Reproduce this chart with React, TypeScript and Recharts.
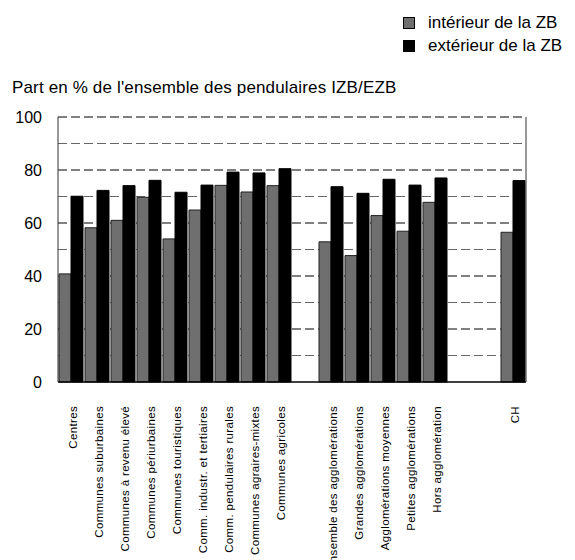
import React from "react";
import {
  BarChart,
  Bar,
  XAxis,
  YAxis,
  CartesianGrid,
} from "recharts";

const categories = [
  "Centres",
  "Communes suburbaines",
  "Communes à revenu élevé",
  "Communes périurbaines",
  "Communes touristiques",
  "Comm. industr. et tertiaires",
  "Comm. pendulaires rurales",
  "Communes agraires-mixtes",
  "Communes agricoles",
  "",
  "Ensemble des agglomérations",
  "Grandes agglomérations",
  "Agglomérations moyennes",
  "Petites agglomérations",
  "Hors agglomération",
  "",
  "",
  "CH",
];

const interieur = [
  40.8, 58.2, 61.0, 69.7, 54.0, 64.9, 74.2, 71.7, 74.1, null,
  52.9, 47.7, 62.8, 56.9, 67.8, null, null, 56.5,
];

const exterieur = [
  70.1, 72.3, 74.1, 76.1, 71.6, 74.3, 79.2, 78.9, 80.5, null,
  73.7, 71.2, 76.5, 74.3, 77.0, null, null, 76.0,
];

const yTicks = [0, 20, 40, 60, 80, 100];
const gridValues = [10, 20, 30, 40, 50, 60, 70, 80, 90, 100];

const FONT = "'Liberation Sans', Arial, sans-serif";
const GRAY = "#6f6f6f";

const data = categories.map((name, i) => ({
  name,
  interieur: interieur[i],
  exterieur: exterieur[i],
}));

function XTick({ x, y, payload }: any) {
  if (!payload.value) return null;
  return (
    <g transform={`translate(${x + 6},${y + 16}) rotate(-90)`}>
      <text
        textAnchor="end"
        fontSize={11.5}
        fontFamily={FONT}
        letterSpacing={0.35}
        fill="#000"
      >
        {payload.value}
      </text>
    </g>
  );
}

function LeftTick({ x, y, payload }: any) {
  return (
    <text
      x={x - 8}
      y={y}
      dy={6}
      textAnchor="end"
      fontSize={16}
      fontFamily={FONT}
      fill="#000"
    >
      {payload.value}
    </text>
  );
}

function RightTick({ x, y, payload }: any) {
  return (
    <text
      x={x + 4}
      y={y}
      dy={6}
      textAnchor="start"
      fontSize={16}
      fontFamily={FONT}
      fill="#000"
    >
      {payload.value}
    </text>
  );
}

function GridLine(props: any) {
  const v = gridValues[props.index];
  return (
    <line
      key={props.key}
      x1={props.x1}
      x2={props.x2}
      y1={props.y1}
      y2={props.y2}
      stroke={v % 20 === 0 ? "#000" : "#666"}
      strokeWidth={1}
      strokeDasharray="9 4"
    />
  );
}

export default function App() {
  return (
    <div
      style={{
        position: "fixed",
        left: 0,
        top: 0,
        width: 575,
        height: 560,
        background: "#fff",
        fontFamily: FONT,
      }}
    >
      <div style={{ position: "absolute", left: 403, top: 16, display: "flex", flexDirection: "column", gap: 9 }}>
        {[
          { label: "intérieur de la ZB", color: GRAY },
          { label: "extérieur de la ZB", color: "#000" },
        ].map((item) => (
          <div key={item.label} style={{ display: "flex", alignItems: "center", height: 14 }}>
            <div
              style={{
                width: 10,
                height: 10,
                background: item.color,
                border: "1px solid #000",
                marginRight: 13,
              }}
            />
            <span style={{ fontSize: 17, color: "#000", whiteSpace: "nowrap" }}>{item.label}</span>
          </div>
        ))}
      </div>
      <div
        style={{
          position: "absolute",
          left: 12,
          top: 78,
          fontSize: 17,
          letterSpacing: 0.15,
          color: "#000",
          whiteSpace: "nowrap",
        }}
      >
        Part en % de l'ensemble des pendulaires IZB/EZB
      </div>
      <BarChart
        width={575}
        height={560}
        data={data}
        margin={{ top: 117, right: 0, left: 0, bottom: 0 }}
        barCategoryGap={1}
        barGap={0}
      >
        <CartesianGrid
          vertical={false}
          horizontalValues={gridValues}
          horizontal={GridLine}
          yAxisId="left"
        />
        <XAxis
          dataKey="name"
          height={178}
          interval={0}
          tick={<XTick />}
          tickLine={false}
          axisLine={{ stroke: "#000", strokeWidth: 1.5 }}
        />
        <YAxis
          yAxisId="left"
          width={58}
          domain={[0, 100]}
          ticks={yTicks}
          tick={<LeftTick />}
          tickLine={false}
          axisLine={{ stroke: "#333" }}
        />
        <YAxis
          yAxisId="right"
          orientation="right"
          width={49}
          domain={[0, 100]}
          ticks={yTicks}
          tick={<RightTick />}
          tickLine={false}
          axisLine={{ stroke: "#333" }}
        />
        <Bar
          yAxisId="left"
          dataKey="interieur"
          fill={GRAY}
          stroke="#222"
          strokeWidth={1}
          isAnimationActive={false}
        />
        <Bar
          yAxisId="left"
          dataKey="exterieur"
          fill="#000"
          stroke="#000"
          strokeWidth={1}
          isAnimationActive={false}
        />
      </BarChart>
    </div>
  );
}
